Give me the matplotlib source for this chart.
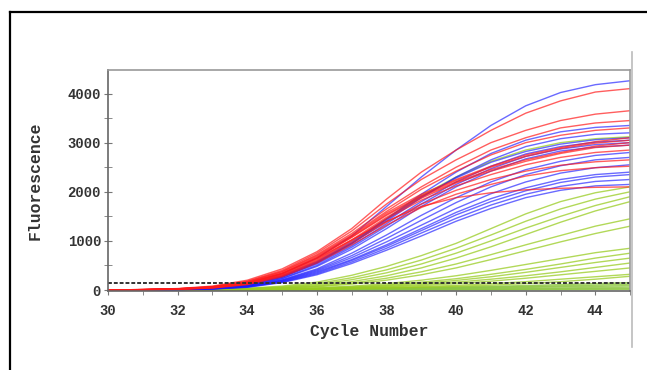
import matplotlib
matplotlib.use("Agg")
from matplotlib import pyplot as plt
from matplotlib.lines import Line2D
from matplotlib.ticker import MultipleLocator

cycles = list(range(30, 46))

red_curves = [
    [0, 10, 30, 80, 200, 430, 780, 1250, 1850, 2400, 2850, 3250, 3600, 3850, 4030, 4100],
    [0, 10, 25, 70, 180, 400, 750, 1200, 1750, 2250, 2650, 3000, 3250, 3450, 3580, 3650],
    [0, 8, 25, 65, 170, 380, 720, 1150, 1650, 2100, 2500, 2850, 3100, 3300, 3400, 3450],
    [0, 8, 22, 60, 160, 370, 700, 1120, 1600, 2050, 2420, 2750, 3000, 3150, 3250, 3300],
    [0, 10, 25, 60, 150, 350, 680, 1100, 1570, 1950, 2250, 2520, 2750, 2900, 3020, 3100],
    [0, 8, 20, 55, 140, 330, 650, 1070, 1520, 1900, 2200, 2450, 2650, 2800, 2930, 3000],
    [0, 6, 18, 50, 130, 310, 620, 1020, 1480, 1870, 2180, 2420, 2620, 2780, 2900, 2950],
    [0, 6, 18, 50, 125, 300, 600, 1000, 1450, 1830, 2120, 2350, 2550, 2700, 2800, 2850],
    [0, 5, 15, 45, 120, 290, 580, 960, 1380, 1750, 2030, 2250, 2420, 2540, 2610, 2650],
    [0, 5, 15, 40, 110, 270, 550, 920, 1320, 1680, 1950, 2150, 2320, 2430, 2490, 2520],
    [0, 8, 22, 55, 140, 330, 640, 1020, 1400, 1700, 1880, 1980, 2040, 2070, 2090, 2100],
    [0, 7, 20, 55, 145, 340, 660, 1080, 1540, 1920, 2230, 2500, 2720, 2880, 2990, 3050],
]

blue_curves = [
    [0, 5, 20, 55, 140, 330, 650, 1100, 1700, 2300, 2850, 3350, 3750, 4020, 4180, 4260],
    [0, 4, 15, 45, 120, 290, 580, 980, 1450, 1950, 2400, 2780, 3050, 3220, 3310, 3350],
    [0, 4, 15, 40, 110, 270, 550, 940, 1400, 1880, 2300, 2650, 2920, 3080, 3170, 3200],
    [0, 4, 14, 40, 105, 260, 530, 900, 1350, 1800, 2200, 2520, 2770, 2920, 3010, 3050],
    [0, 3, 12, 35, 95, 240, 500, 870, 1300, 1750, 2150, 2470, 2720, 2870, 2960, 3000],
    [0, 3, 12, 35, 90, 230, 480, 830, 1250, 1700, 2100, 2420, 2670, 2830, 2910, 2950],
    [0, 3, 10, 30, 85, 210, 430, 750, 1120, 1520, 1880, 2200, 2450, 2620, 2740, 2800],
    [0, 3, 10, 30, 80, 200, 410, 700, 1050, 1420, 1780, 2100, 2350, 2530, 2650, 2700],
    [0, 3, 10, 28, 75, 190, 390, 660, 980, 1320, 1660, 1960, 2200, 2380, 2490, 2550],
    [0, 2, 8, 25, 70, 180, 370, 620, 920, 1250, 1580, 1860, 2080, 2250, 2350, 2400],
    [0, 2, 8, 25, 65, 170, 350, 600, 890, 1210, 1530, 1800, 2020, 2190, 2300, 2350],
    [0, 2, 8, 22, 60, 160, 330, 570, 850, 1160, 1460, 1730, 1950, 2110, 2210, 2250],
    [0, 2, 7, 20, 55, 150, 310, 540, 810, 1100, 1400, 1660, 1880, 2030, 2120, 2150],
    [0, 4, 14, 40, 110, 270, 560, 950, 1430, 1900, 2280, 2600, 2820, 2970, 3060, 3100],
]

green_curves = [
    [0, 5, 15, 40, 110, 270, 560, 950, 1450, 1920, 2300, 2620, 2850, 3000, 3080, 3120],
    [0, 0, 5, 15, 35, 80, 160, 300, 480, 700, 950, 1250, 1550, 1800, 1980, 2100],
    [0, 0, 5, 12, 30, 65, 130, 250, 410, 610, 850, 1120, 1400, 1650, 1850, 2000],
    [0, 0, 4, 10, 25, 55, 110, 210, 350, 530, 750, 1000, 1260, 1500, 1720, 1900],
    [0, 0, 4, 10, 22, 45, 90, 170, 290, 450, 650, 880, 1130, 1380, 1610, 1800],
    [0, 0, 3, 8, 18, 40, 75, 140, 240, 370, 530, 720, 920, 1110, 1300, 1450],
    [0, 0, 3, 8, 16, 35, 65, 120, 200, 310, 450, 620, 800, 980, 1150, 1300],
    [0, 0, 2, 6, 12, 25, 45, 80, 130, 200, 290, 400, 520, 640, 760, 850],
    [0, 0, 2, 5, 10, 20, 38, 65, 105, 160, 230, 320, 420, 530, 650, 750],
    [0, 0, 2, 5, 10, 18, 32, 55, 90, 135, 195, 270, 360, 460, 560, 650],
    [0, 0, 2, 4, 8, 15, 28, 48, 75, 110, 160, 220, 290, 370, 460, 550],
    [0, 0, 1, 4, 8, 14, 24, 40, 62, 90, 130, 180, 240, 310, 380, 450],
    [0, 0, 1, 3, 6, 12, 20, 32, 48, 70, 95, 130, 170, 220, 270, 320],
    [0, 0, 1, 3, 5, 10, 16, 25, 38, 55, 75, 100, 130, 170, 220, 280],
]

green_flat = [
    [0, 0, 0, 5, 10, 15, 20, 30, 40, 50, 60, 75, 90, 110, 130, 150],
    [0, 0, 0, 3, 8, 12, 18, 25, 32, 40, 50, 60, 70, 85, 100, 120],
    [0, 0, 0, 2, 5, 8, 12, 18, 25, 30, 38, 45, 55, 65, 75, 90],
    [0, 0, 0, 0, 3, 5, 8, 12, 16, 20, 25, 30, 35, 40, 50, 60],
    [0, 0, 0, 0, 0, 2, 4, 6, 8, 10, 12, 15, 18, 22, 26, 30],
    [0, 0, 0, 0, 0, 0, 2, 3, 4, 5, 6, 8, 10, 12, 14, 16],
]

threshold = 150

plt.rcParams['font.family'] = ['Liberation Mono', 'DejaVu Sans Mono']

fig = plt.figure(figsize=(6.47, 3.70), dpi=100)
ax = fig.add_axes([0.167, 0.2135, 0.807, 0.5975])

for y in green_flat:
    ax.plot(cycles, y, color='#8cc63f', lw=1.1, alpha=0.8)
for y in green_curves:
    ax.plot(cycles, y, color='#99cc22', lw=1.0, alpha=0.75)
for y in blue_curves:
    ax.plot(cycles, y, color='#1a1aff', lw=1.0, alpha=0.65)
for y in red_curves:
    ax.plot(cycles, y, color='#ff1a1a', lw=1.0, alpha=0.7)

ax.axhline(threshold, color='#333333', lw=1.4, ls=(0, (2, 1)))

ax.set_xlim(30, 45)
ax.set_ylim(-20, 4480)
ax.xaxis.set_major_locator(MultipleLocator(2))
ax.xaxis.set_minor_locator(MultipleLocator(1))
ax.yaxis.set_major_locator(MultipleLocator(1000))
ax.yaxis.set_minor_locator(MultipleLocator(500))

ax.tick_params(axis='x', which='both', direction='out', length=3, color='#777777',
               labelsize=10, labelcolor='#333333', pad=6)
ax.tick_params(axis='y', which='both', direction='inout', length=6, color='#777777',
               labelsize=10, labelcolor='#333333', pad=2)
for lab in ax.get_xticklabels() + ax.get_yticklabels():
    lab.set_fontweight('bold')

for s in ['left', 'bottom']:
    ax.spines[s].set_color('#666666')
    ax.spines[s].set_linewidth(1.2)
for s in ['top', 'right']:
    ax.spines[s].set_color('#999999')
    ax.spines[s].set_linewidth(1.2)

ax.set_xlabel("Cycle Number", fontsize=11.8, fontweight='bold', color='#333333', labelpad=5)
ax.set_ylabel("Fluorescence", fontsize=11.8, fontweight='bold', color='#333333', labelpad=18)

# outer frame and the grey line on the right
fig.add_artist(Line2D([10 / 647, 1.0], [1 - 12 / 370, 1 - 12 / 370], color='black', lw=1.6))
fig.add_artist(Line2D([10 / 647, 10 / 647], [0.0, 1 - 12 / 370], color='black', lw=1.6))
fig.add_artist(Line2D([632 / 647, 632 / 647], [1 - 52 / 370, 1 - 347 / 370], color='#bbbbbb', lw=1.2))

plt.savefig("out.png", dpi=100)
